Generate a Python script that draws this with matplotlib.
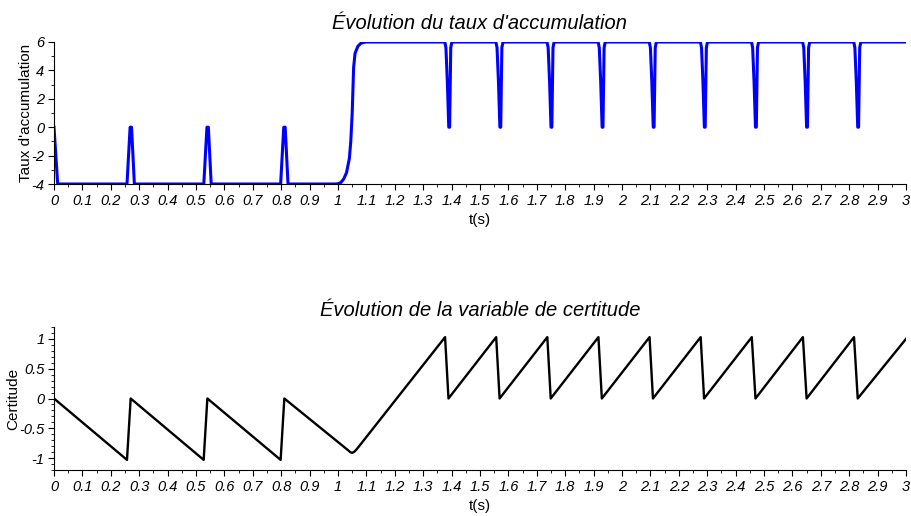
import matplotlib
matplotlib.use("Agg")
import matplotlib.pyplot as plt
from matplotlib.ticker import MultipleLocator, FuncFormatter

plt.rcParams['font.family'] = ['Liberation Sans', 'DejaVu Sans']

# ---- Data: taux d'accumulation ----
taux_t = [0.000, 0.013, 0.257, 0.268, 0.273, 0.283,
          0.5275, 0.5385, 0.5435, 0.5535,
          0.798, 0.809, 0.814, 0.824,
          0.990, 1.000, 1.010, 1.020, 1.030, 1.040, 1.045, 1.050, 1.055, 1.060,
          1.070, 1.080, 1.090, 1.100,
          1.376, 1.380, 1.385, 1.390, 1.393, 1.397, 1.401,
          1.556, 1.560, 1.565, 1.570, 1.573, 1.577, 1.581,
          1.736, 1.740, 1.745, 1.750, 1.753, 1.757, 1.761,
          1.916, 1.920, 1.925, 1.930, 1.933, 1.937, 1.941,
          2.096, 2.100, 2.105, 2.110, 2.113, 2.117, 2.121,
          2.276, 2.280, 2.285, 2.290, 2.293, 2.297, 2.301,
          2.456, 2.460, 2.465, 2.470, 2.473, 2.477, 2.481,
          2.636, 2.640, 2.645, 2.650, 2.653, 2.657, 2.661,
          2.816, 2.820, 2.825, 2.830, 2.833, 2.837, 2.841,
          3.000]
taux_v = [0, -4, -4, 0, 0, -4,
          -4, 0, 0, -4,
          -4, 0, 0, -4,
          -4, -3.98, -3.9, -3.65, -3.2, -2.2, -1.0, 1.0, 4.2, 5.2,
          5.7, 5.9, 5.97, 6,
          6, 5.6, 3.2, 0, 0, 5.6, 6,
          6, 5.6, 3.2, 0, 0, 5.6, 6,
          6, 5.6, 3.2, 0, 0, 5.6, 6,
          6, 5.6, 3.2, 0, 0, 5.6, 6,
          6, 5.6, 3.2, 0, 0, 5.6, 6,
          6, 5.6, 3.2, 0, 0, 5.6, 6,
          6, 5.6, 3.2, 0, 0, 5.6, 6,
          6, 5.6, 3.2, 0, 0, 5.6, 6,
          6, 5.6, 3.2, 0, 0, 5.6, 6,
          6]

# ---- Data: variable de certitude ----
cert_t = [0.000, 0.257, 0.270, 0.527, 0.540, 0.798, 0.811,
          1.035, 1.043, 1.050, 1.057, 1.067,
          1.377, 1.389, 1.557, 1.569, 1.737, 1.749, 1.917, 1.929,
          2.097, 2.109, 2.277, 2.289, 2.457, 2.470, 2.637, 2.650,
          2.817, 2.830, 3.000]
cert_v = [0.0, -1.03, 0.0, -1.03, 0.0, -1.03, 0.0,
          -0.866, -0.900, -0.912, -0.895, -0.845,
          1.03, 0.0, 1.03, 0.0, 1.03, 0.0, 1.03, 0.0,
          1.03, 0.0, 1.03, 0.0, 1.03, 0.0, 1.03, 0.0,
          1.03, 0.0, 1.0]

x_major = 0.1
x_minor = 0.05


def fmt(v, pos):
    s = f"{v:.2f}".rstrip('0').rstrip('.')
    if s == "-0":
        s = "0"
    return s


fig = plt.figure(figsize=(9.12, 5.16), dpi=100)
ax1 = fig.add_axes([54/912, 1-184/516, 852/912, 142/516])
ax2 = fig.add_axes([54/912, 1-470/516, 852/912, 143/516])

ax1.plot(taux_t, taux_v, color='#0000ff', lw=2.2, solid_joinstyle='round')
ax2.plot(cert_t, cert_v, color='black', lw=1.7, solid_joinstyle='round')

ax1.set_xlim(0, 3)
ax1.set_ylim(-4, 6)
ax1.yaxis.set_major_locator(MultipleLocator(2))
ax1.yaxis.set_minor_locator(MultipleLocator(1))

ax2.set_xlim(0, 3)
ax2.set_ylim(-1.2, 1.2)
ax2.yaxis.set_major_locator(MultipleLocator(0.5))
ax2.yaxis.set_minor_locator(MultipleLocator(0.1))

for ax in (ax1, ax2):
    ax.xaxis.set_major_locator(MultipleLocator(x_major))
    ax.xaxis.set_minor_locator(MultipleLocator(x_minor))
    ax.xaxis.set_major_formatter(FuncFormatter(fmt))
    ax.yaxis.set_major_formatter(FuncFormatter(fmt))
    for side in ('top', 'right'):
        ax.spines[side].set_visible(False)
    for side in ('left', 'bottom'):
        ax.spines[side].set_linewidth(0.8)
    ax.tick_params(which='major', direction='out', length=4, width=0.8,
                   labelsize=10.5, pad=3)
    ax.tick_params(which='minor', direction='out', length=2, width=0.6)
    for lab in ax.get_xticklabels() + ax.get_yticklabels():
        lab.set_fontstyle('italic')
    ax.set_xlabel('t(s)', fontsize=11, labelpad=4)

ax1.set_title("Évolution du taux d'accumulation", fontsize=14.5, style='italic', pad=9)
ax2.set_title("Évolution de la variable de certitude", fontsize=14.5, style='italic', pad=8)
ax1.set_ylabel("Taux d'accumulation", fontsize=11, labelpad=-1)
ax2.set_ylabel("Certitude", fontsize=11, labelpad=-1)

fig.savefig('out.png', dpi=100)
